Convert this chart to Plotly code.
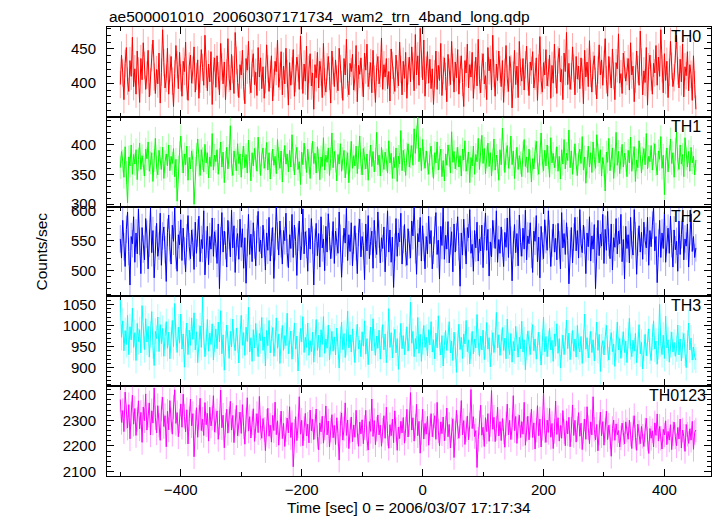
import plotly.graph_objects as go
from plotly.subplots import make_subplots

# ---------------- data (2 s sampling of the light curves) ----------
T_START = -500
T_STEP = 2

th0 = [398, 441, 415, 376, 429, 452, 403, 388, 433, 410, 467, 395, 421, 384, 447, 418, 372, 436, 405, 459,
       426, 391, 412, 448, 380, 402, 437, 463, 409, 385, 420, 399, 444, 371, 416, 478, 430, 393, 407, 451,
       384, 422, 439, 403, 366, 414, 455, 427, 392, 445, 408, 381, 432, 417, 460, 396, 375, 425, 441, 400,
       419, 453, 387, 410, 434, 378, 406, 449, 423, 397, 470, 413, 389, 428, 402, 446, 369, 418, 437, 394,
       440, 411, 383, 458, 424, 399, 431, 376, 415, 465, 407, 390, 442, 420, 385, 474, 433, 401, 379, 427,
       412, 448, 395, 370, 436, 419, 461, 404, 386, 429, 443, 398, 416, 382, 452, 409, 437, 392, 424, 378,
       405, 456, 421, 388, 413, 440, 374, 401, 432, 417, 463, 394, 410, 446, 383, 425, 399, 451, 414, 368,
       430, 397, 418, 449, 381, 407, 438, 422, 391, 469, 411, 385, 428, 403, 454, 376, 420, 443, 396, 415,
       362, 427, 408, 445, 393, 432, 416, 379, 458, 402, 387, 424, 439, 410, 371, 447, 418, 395, 434, 406,
       389, 451, 421, 398, 375, 436, 412, 464, 400, 383, 429, 417, 442, 390, 408, 455, 373, 426, 413, 437,
       401, 380, 444, 419, 457, 395, 411, 430, 386, 448, 406, 372, 423, 439, 399, 414, 466, 391, 427, 409,
       436, 392, 417, 374, 450, 426, 404, 388, 441, 413, 396, 460, 420, 383, 432, 407, 445, 378, 418, 438,
       402, 453, 425, 389, 471, 412, 440, 397, 480, 428, 405, 463, 381, 419, 446, 400, 435, 392, 421, 369,
       414, 447, 391, 426, 404, 458, 382, 419, 437, 410, 373, 442, 416, 398, 461, 423, 387, 431, 408, 449,
       384, 420, 440, 401, 366, 433, 415, 457, 393, 427, 409, 445, 378, 412, 438, 396, 464, 405, 386, 424,
       443, 399, 411, 376, 452, 418, 435, 390, 470, 414, 381, 428, 404, 447, 420, 395, 433, 372, 416, 455,
       407, 388, 439, 421, 364, 412, 448, 398, 425, 379, 461, 416, 403, 436, 390, 427, 454, 409, 382, 431,
       419, 446, 393, 410, 437, 375, 422, 468, 404, 387, 430, 412, 449, 396, 415, 441, 378, 426, 400, 457,
       413, 385, 434, 451, 402, 420, 376, 444, 417, 474, 398, 429, 391, 410, 453, 422, 383, 439, 406, 425,
       392, 437, 416, 370, 448, 409, 431, 395, 462, 414, 387, 426, 440, 403, 377, 419, 456, 412, 434, 397,
       428, 465, 405, 381, 439, 418, 393, 450, 411, 376, 430, 421, 472, 400, 414, 385, 444, 427, 403, 417,
       436, 390, 459, 412, 425, 373, 406, 447, 420, 397, 476, 431, 383, 418, 401, 452, 368, 424, 441, 409,
       384, 429, 415, 455, 397, 438, 410, 478, 421, 386, 443, 404, 432, 379, 416, 461, 425, 395, 408, 449,
       470, 418, 393, 435, 402, 457, 380, 424, 411, 446, 389, 427, 413, 375, 440, 398, 362]

th1 = [361, 388, 372, 345, 396, 353, 302, 379, 364, 399, 350, 383, 367, 391, 341, 375, 402, 358, 381, 366,
       347, 392, 376, 404, 355, 369, 386, 338, 373, 410, 362, 349, 390, 377, 358, 395, 343, 371, 384, 364,
       399, 356, 380, 368, 393, 346, 375, 305, 362, 387, 414, 371, 352, 384, 366, 397, 340, 378, 359, 389,
       373, 300, 360, 383, 409, 365, 348, 391, 376, 354, 400, 369, 386, 344, 379, 363, 418, 357, 382, 371,
       391, 350, 375, 404, 362, 387, 336, 370, 395, 359, 381, 431, 366, 348, 389, 374, 356, 401, 368, 384,
       345, 378, 397, 361, 383, 352, 407, 371, 339, 386, 364, 393, 377, 355, 412, 369, 348, 382, 394, 360,
       375, 403, 357, 386, 342, 370, 392, 365, 380, 351, 408, 376, 360, 389, 337, 373, 398, 367, 384, 354,
       390, 362, 416, 374, 349, 381, 395, 358, 371, 333, 387, 366, 402, 378, 353, 392, 369, 343, 383, 405,
       368, 385, 352, 396, 374, 341, 379, 363, 411, 357, 382, 370, 394, 348, 376, 419, 361, 388, 372, 339,
       383, 367, 401, 355, 376, 390, 344, 369, 386, 336, 372, 405, 360, 381, 364, 397, 351, 378, 414, 368,
       349, 393, 377, 359, 384, 340, 371, 399, 363, 388, 354, 375, 420, 366, 382, 347, 395, 372, 358, 387,
       374, 352, 406, 369, 385, 343, 378, 361, 394, 338, 380, 367, 423, 356, 390, 373, 348, 384, 401, 362,
       379, 398, 365, 426, 385, 412, 445, 371, 394, 356, 408, 377, 360, 389, 368, 350, 383, 397, 364, 343,
       386, 369, 404, 357, 378, 392, 346, 373, 339, 384, 365, 399, 381, 352, 421, 370, 388, 359, 376, 395,
       362, 381, 347, 392, 374, 406, 355, 369, 387, 336, 378, 364, 397, 350, 383, 371, 410, 358, 389, 415,
       368, 393, 351, 379, 402, 363, 386, 347, 374, 409, 357, 382, 370, 340, 391, 366, 427, 375, 353, 384,
       398, 360, 377, 414, 366, 389, 343, 372, 395, 358, 381, 369, 346, 386, 408, 363, 379, 353, 392, 371,
       337, 376, 359, 388, 405, 367, 350, 383, 419, 372, 356, 390, 364, 399, 378, 345, 411, 369, 385, 361,
       374, 396, 355, 380, 342, 391, 367, 408, 359, 385, 373, 424, 361, 389, 350, 377, 401, 366, 348, 383,
       392, 368, 413, 357, 379, 335, 371, 397, 362, 386, 353, 404, 375, 360, 416, 382, 369, 391, 347, 378,
       364, 322, 387, 370, 410, 356, 381, 394, 343, 372, 420, 365, 388, 351, 377, 400, 362, 385, 373, 346,
       390, 369, 412, 355, 378, 396, 338, 374, 361, 406, 383, 352, 377, 393, 366, 418, 359, 380, 371, 398,
       357, 384, 401, 366, 349, 389, 375, 413, 360, 382, 316, 371, 394, 354, 379, 409, 368, 386, 345, 392,
       421, 374, 358, 399, 367, 383, 346, 411, 376, 362, 388, 355, 395, 369, 380, 349, 374]

th2 = [553, 521, 584, 540, 507, 569, 598, 532, 476, 557, 545, 590, 514, 563, 528, 603, 549, 495, 572, 536,
       518, 587, 561, 503, 546, 605, 530, 567, 488, 552, 579, 524, 541, 596, 509, 558, 573, 535, 482, 564,
       593, 538, 511, 576, 549, 606, 526, 499, 560, 543, 585, 517, 571, 533, 498, 555, 592, 540, 520, 568,
       547, 502, 581, 529, 563, 591, 515, 552, 537, 600, 493, 544, 574, 510, 557, 536, 588, 524, 565, 545,
       512, 578, 470, 550, 597, 531, 566, 542, 506, 584, 559, 523, 601, 538, 575, 497, 548, 562, 519, 586,
       539, 570, 504, 555, 479, 547, 594, 527, 561, 515, 580, 543, 508, 569, 599, 532, 551, 521, 576, 546,
       501, 563, 534, 589, 516, 548, 572, 487, 540, 607, 558, 526, 583, 545, 511, 567, 550, 596, 530, 505,
       560, 537, 594, 522, 576, 549, 492, 556, 583, 518, 541, 603, 528, 565, 544, 499, 571, 536, 587, 551,
       476, 547, 579, 525, 562, 506, 590, 538, 553, 500, 574, 531, 595, 557, 520, 543, 582, 512, 566, 548,
       529, 598, 554, 489, 536, 571, 546, 604, 517, 560, 532, 580, 508, 551, 575, 540, 495, 564, 586, 523,
       557, 542, 485, 578, 533, 592, 520, 549, 566, 504, 584, 544, 527, 598, 561, 513, 555, 537, 573, 498,
       546, 600, 531, 568, 514, 556, 472, 539, 587, 524, 563, 548, 596, 511, 552, 577, 530, 509, 570, 543,
       521, 583, 558, 606, 535, 494, 562, 548, 589, 516, 575, 539, 503, 557, 528, 591, 545, 567, 503, 534,
       568, 597, 527, 551, 486, 574, 542, 605, 519, 559, 536, 582, 513, 550, 565, 498, 578, 531, 556, 590,
       540, 474, 563, 526, 586, 548, 511, 572, 555, 602, 529, 544, 499, 567, 538, 581, 516, 553, 533, 576,
       505, 557, 596, 534, 569, 491, 548, 523, 584, 561, 537, 600, 514, 552, 529, 573, 546, 507, 564, 539,
       588, 522, 604, 551, 483, 543, 577, 530, 562, 508, 593, 547, 524, 571, 536, 601, 518, 558, 545, 580,
       527, 497, 566, 549, 592, 515, 556, 488, 574, 541, 520, 585, 552, 534, 600, 561, 507, 546, 578, 531,
       554, 518, 579, 543, 503, 597, 538, 562, 527, 580, 550, 478, 545, 572, 513, 556, 589, 533, 567, 521,
       602, 545, 530, 576, 551, 495, 563, 540, 590, 516, 558, 536, 577, 470, 549, 584, 525, 561, 541, 594,
       512, 569, 534, 599, 547, 520, 578, 501, 555, 539, 587, 528, 566, 545, 594, 515, 552, 486, 574, 537,
       560, 513, 589, 543, 526, 602, 558, 494, 548, 575, 531, 564, 519, 581, 550, 538, 589, 509, 567, 540,
       576, 606, 533, 557, 480, 546, 584, 522, 563, 537, 598, 514, 552, 571, 529, 591, 545, 506, 568, 535,
       549, 499, 583, 527, 560, 592, 518, 553, 541, 578, 506, 566, 595, 532, 557, 522, 538]

th3 = [1064, 972, 1011, 940, 988, 955, 1024, 931, 997, 966, 1041, 948, 983, 917, 1005, 962, 990, 935, 1047, 976,
       943, 1016, 961, 998, 925, 979, 1033, 952, 905, 986, 969, 1020, 938, 1002, 957, 993, 927, 974, 1009, 946,
       984, 921, 965, 1012, 950, 1052, 973, 936, 996, 958, 1027, 944, 980, 901, 963, 1006, 931, 989, 953, 1018,
       967, 1030, 942, 985, 912, 971, 999, 948, 1067, 975, 926, 960, 1014, 939, 982, 955, 1004, 918, 968, 992,
       945, 1008, 961, 1035, 933, 978, 894, 957, 1001, 970, 922, 986, 949, 1015, 959, 940, 994, 966, 911, 975,
       1024, 953, 983, 929, 996, 962, 1043, 937, 971, 915, 990, 947, 1005, 958, 926, 981, 964, 1019, 941, 973,
       904, 988, 952, 1012, 935, 969, 995, 927, 957, 1018, 946, 980, 910, 963, 1000, 941, 976, 952, 1029, 933,
       965, 987, 920, 958, 1006, 944, 975, 892, 953, 993, 961, 1021, 936, 972, 948, 1006, 929, 964, 938, 984,
       913, 959, 1014, 941, 977, 925, 990, 955, 1021, 934, 968, 946, 1001, 918, 962, 986, 939, 973, 930, 994,
       950, 899, 966, 1008, 943, 981, 924, 960, 1034, 947, 978, 937, 992, 956, 912, 971, 1003, 944, 965, 926,
       985, 951, 1011, 932, 969, 907, 958, 996, 940, 1016, 961, 929, 975, 946, 989, 920, 967, 1002, 942, 980,
       912, 956, 1040, 948, 983, 923, 965, 991, 935, 969, 896, 953, 1005, 945, 976, 931, 961, 997, 939, 973,
       1055, 958, 986, 926, 969, 944, 1019, 934, 979, 915, 962, 1000, 948, 972, 928, 990, 954, 1009, 937, 966,
       921, 982, 947, 1023, 960, 930, 976, 904, 953, 988, 941, 970, 1009, 935, 963, 917, 984, 950, 889, 958,
       1003, 943, 972, 922, 980, 956, 1012, 938, 966, 909, 951, 986, 933, 968, 947, 1026, 961, 927, 975, 942,
       989, 919, 955, 1007, 944, 971, 902, 958, 983, 936, 964, 1031, 947, 978, 929, 960, 995, 941, 970, 921,
       1015, 952, 931, 981, 913, 962, 940, 998, 955, 925, 972, 945, 1010, 937, 966, 895, 949, 987, 958, 931,
       976, 1002, 940, 968, 920, 953, 984, 946, 906, 960, 1020, 938, 974, 926, 957, 993, 942, 965, 915, 980,
       951, 1004, 934, 969, 899, 948, 977, 931, 962, 1013, 945, 982, 919, 956, 988, 939, 968, 925, 1000, 950,
       937, 974, 910, 959, 1027, 944, 971, 923, 954, 986, 936, 966, 916, 952, 1008, 941, 979, 891, 949, 964,
       930, 973, 1000, 946, 918, 961, 983, 938, 956, 903, 948, 1008, 942, 969, 922, 955, 985, 936, 963, 912,
       977, 1017, 950, 926, 965, 939, 981, 912, 954, 1002, 933, 960, 897, 946, 979, 928, 957, 992, 940, 917,
       972, 1011, 944, 963, 908, 950, 1050, 957, 931, 977, 922, 1022, 947, 966, 913, 955, 984, 937, 960, 927,
       945, 1001, 930, 968, 916, 953, 981, 935, 900, 958, 1006, 942, 970, 918, 949, 926, 918]

th0123 = [2381, 2292, 2338, 2256, 2410, 2314, 2270, 2361, 2228, 2325, 2398, 2285, 2346, 2241, 2303, 2376, 2267, 2331, 2214, 2352,
          2299, 2403, 2262, 2320, 2368, 2243, 2337, 2289, 2426, 2310, 2251, 2357, 2281, 2222, 2344, 2390, 2276, 2318, 2197, 2335,
          2263, 2377, 2301, 2246, 2352, 2419, 2288, 2330, 2236, 2297, 2364, 2273, 2402, 2316, 2255, 2341, 2208, 2306, 2383, 2279,
          2326, 2158, 2293, 2349, 2234, 2312, 2386, 2260, 2304, 2241, 2369, 2283, 2327, 2219, 2351, 2278, 2309, 2396, 2254, 2298,
          2337, 2226, 2290, 2418, 2271, 2320, 2193, 2282, 2343, 2250, 2305, 2374, 2262, 2319, 2213, 2296, 2358, 2240, 2285, 2332,
          2249, 2361, 2275, 2207, 2302, 2388, 2258, 2314, 2231, 2290, 2345, 2218, 2279, 2326, 2252, 2393, 2270, 2230, 2307, 2265,
          2182, 2296, 2347, 2238, 2281, 2215, 2319, 2260, 2371, 2244, 2298, 2203, 2273, 2336, 2229, 2288, 2198, 2264, 2309, 2251,
          2353, 2233, 2291, 2119, 2257, 2314, 2221, 2278, 2392, 2246, 2300, 2201, 2268, 2327, 2239, 2285, 2212, 2340, 2259, 2304,
          2225, 2275, 2344, 2236, 2185, 2290, 2255, 2316, 2211, 2270, 2356, 2243, 2297, 2196, 2262, 2322, 2232, 2280, 2206, 2310,
          2249, 2145, 2286, 2329, 2223, 2267, 2368, 2241, 2301, 2190, 2259, 2313, 2217, 2282, 2234, 2339, 2254, 2199, 2293, 2247,
          2302, 2209, 2272, 2339, 2228, 2184, 2295, 2257, 2383, 2237, 2299, 2205, 2266, 2321, 2243, 2281, 2199, 2261, 2318, 2230,
          2351, 2248, 2191, 2283, 2240, 2305, 2213, 2337, 2264, 2183, 2274, 2229, 2296, 2251, 2311, 2211, 2267, 2343, 2235, 2289,
          2408, 2262, 2310, 2219, 2277, 2362, 2240, 2296, 2172, 2253, 2343, 2227, 2288, 2246, 2315, 2203, 2269, 2326, 2236, 2280,
          2318, 2226, 2370, 2259, 2201, 2294, 2248, 2313, 2220, 2270, 2348, 2236, 2284, 2192, 2263, 2306, 2155, 2250, 2339, 2274,
          2230, 2288, 2377, 2243, 2299, 2206, 2264, 2317, 2224, 2282, 2420, 2268, 2314, 2237, 2260, 2116, 2226, 2291, 2359, 2242,
          2273, 2198, 2310, 2256, 2326, 2218, 2283, 2416, 2265, 2312, 2217, 2269, 2351, 2239, 2295, 2221, 2307, 2255, 2195, 2286,
          2363, 2243, 2300, 2225, 2273, 2396, 2260, 2315, 2210, 2277, 2320, 2233, 2295, 2246, 2370, 2203, 2266, 2316, 2224, 2281,
          2343, 2233, 2290, 2188, 2262, 2357, 2240, 2305, 2196, 2269, 2409, 2260, 2214, 2301, 2253, 2346, 2234, 2288, 2190, 2257,
          2375, 2245, 2310, 2219, 2280, 2230, 2338, 2256, 2201, 2298, 2247, 2312, 2197, 2265, 2360, 2241, 2300, 2215, 2268, 2330,
          2238, 2289, 2186, 2258, 2305, 2226, 2353, 2271, 2209, 2294, 2243, 2392, 2265, 2224, 2284, 2181, 2251, 2332, 2240, 2295,
          2203, 2262, 2336, 2225, 2281, 2237, 2160, 2268, 2301, 2222, 2286, 2244, 2260, 2196, 2232, 2289, 2252, 2208, 2294, 2262,
          2226, 2301, 2246, 2190, 2270, 2318, 2234, 2183, 2285, 2252, 2209, 2276, 2238, 2198, 2262, 2308, 2227, 2171, 2268, 2230,
          2259, 2196, 2290, 2241, 2325, 2219, 2276, 2230, 2188, 2265, 2243, 2298, 2205, 2257, 2223, 2283, 2186, 2248, 2293, 2236,
          2201, 2272, 2227, 2305, 2192, 2262, 2238, 2179, 2284, 2246, 2210, 2267, 2223, 2296, 2187, 2253, 2262]

band_names = ["TH0", "TH1", "TH2", "TH3", "TH0123"]
band_values = [th0, th1, th2, th3, th0123]
band_errors = [20, 19, 23, 31, 48]          # typical 1-sigma error bar (counts/sec)
y_ranges = [[351, 482], [296, 446], [457, 607], [856, 1069], [2083, 2433]]
y_dticks = [50, 50, 50, 50, 100]
y_minor = [10, 10, 10, 10, 20]
x_range = [-522, 477]

title_text = "ae500001010_20060307171734_wam2_trn_4band_long.qdp"
x_title = "Time [sec] 0 = 2006/03/07 17:17:34"
y_title = "Counts/sec"

# ---------------- styling ----------------
colors = ["#ff0000", "#00ff00", "#0000ff", "#00ffff", "#ff00ff"]
err_colors = ["rgba(255,0,0,0.35)", "rgba(0,255,0,0.35)", "rgba(0,0,255,0.35)",
              "rgba(0,255,255,0.35)", "rgba(255,0,255,0.35)"]
FONT = "Liberation Sans, Arial, Helvetica, sans-serif"

fig = make_subplots(rows=5, cols=1, shared_xaxes=True, vertical_spacing=0)

for i, (name, vals) in enumerate(zip(band_names, band_values)):
    t = [T_START + T_STEP * k for k in range(len(vals))]
    fig.add_trace(go.Scatter(
        x=t, y=vals, mode="lines", name=name,
        line=dict(color=colors[i], width=1),
        error_y=dict(type="constant", value=band_errors[i], color=err_colors[i],
                     thickness=1, width=0),
        showlegend=False, hoverinfo="skip",
    ), row=i + 1, col=1)

    fig.update_yaxes(range=y_ranges[i], dtick=y_dticks[i], tick0=0,
                     ticks="inside", ticklen=7, tickwidth=1, tickcolor="black",
                     ticklabelstandoff=7,
                     minor=dict(dtick=y_minor[i], tick0=0, ticks="inside", ticklen=4,
                                tickcolor="black", tickwidth=1),
                     showline=True, linecolor="black", linewidth=1, mirror="ticks",
                     showgrid=False, zeroline=False,
                     tickfont=dict(family=FONT, size=15, color="black"),
                     row=i + 1, col=1)
    fig.update_xaxes(range=x_range, dtick=200, tick0=0,
                     ticks="inside", ticklen=7, tickwidth=1, tickcolor="black",
                     minor=dict(dtick=100, tick0=0, ticks="inside", ticklen=4,
                                tickcolor="black", tickwidth=1),
                     showline=True, linecolor="black", linewidth=1, mirror="ticks",
                     showgrid=False, zeroline=False,
                     tickfont=dict(family=FONT, size=15, color="black"),
                     row=i + 1, col=1)

label_x = [0.9868, 0.9868, 0.9868, 0.9868, 0.9950]
annotations = []
for i, name in enumerate(band_names):
    top = 1 - i / 5
    annotations.append(dict(text=name, xref="paper", yref="paper", x=label_x[i], y=top,
                            xanchor="right", yanchor="top", yshift=1, showarrow=False,
                            font=dict(family=FONT, size=16, color="black")))
annotations.append(dict(text=title_text, xref="paper", yref="paper", x=0, y=1,
                        xanchor="left", yanchor="bottom", yshift=0, showarrow=False,
                        font=dict(family=FONT, size=15.5, color="black")))
annotations.append(dict(text=x_title, xref="paper", yref="paper", x=0.5, y=0,
                        xanchor="center", yanchor="top", yshift=-21, showarrow=False,
                        font=dict(family=FONT, size=15.5, color="black")))
annotations.append(dict(text=y_title, xref="paper", yref="paper", x=0, y=0.5,
                        xanchor="center", yanchor="middle", xshift=-66, textangle=-90,
                        showarrow=False, font=dict(family=FONT, size=15.5, color="black")))

fig.update_layout(
    width=717, height=516,
    margin=dict(l=107, r=6, t=27, b=40),
    paper_bgcolor="white", plot_bgcolor="white",
    annotations=annotations,
    font=dict(family=FONT, size=15, color="black"),
)

fig.write_html("out.html", config={"displayModeBar": False},
               post_script="document.body.style.margin='0px';")
